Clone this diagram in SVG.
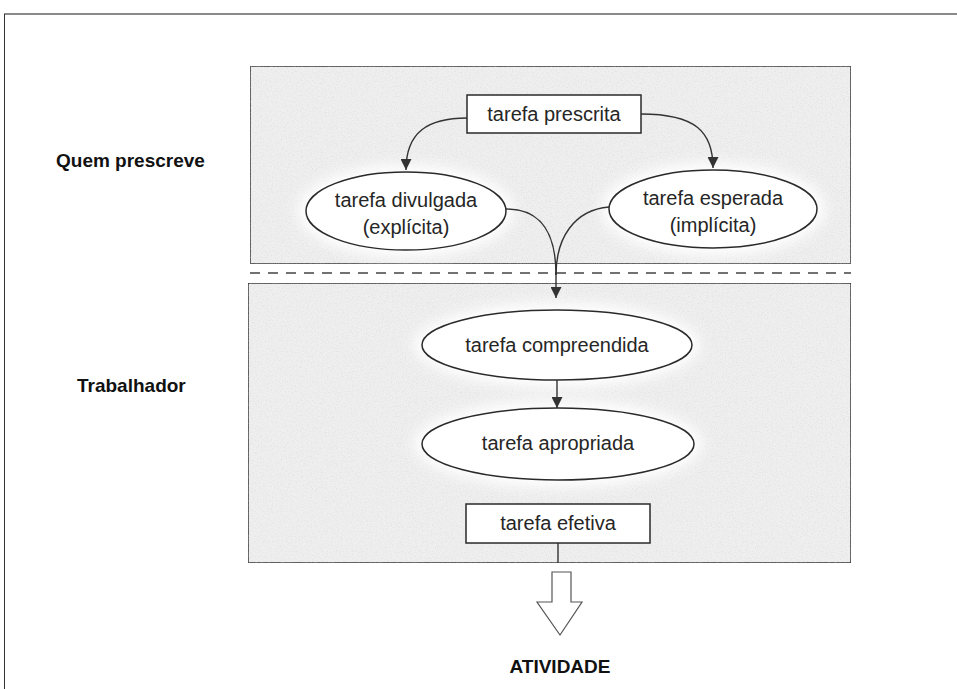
<svg xmlns="http://www.w3.org/2000/svg" width="957" height="689" viewBox="0 0 957 689">
  <defs>
    <style>
      .panel { fill: #efefef; stroke: #3c3c3c; stroke-width: 1.6; }
      .node { fill: #ffffff; stroke: #2a2a2a; stroke-width: 1.5; }
      .glow { fill: #ffffff; filter: url(#soft); }
      .ntext { font-family: "Liberation Sans", Arial, sans-serif; font-size: 20px; fill: #262626; text-anchor: middle; }
      .label { font-family: "Liberation Sans", Arial, sans-serif; font-size: 19px; font-weight: bold; fill: #111111; }
      .conn { fill: none; stroke: #333333; stroke-width: 1.4; }
    </style>
    <marker id="ah" viewBox="0 0 10 10" refX="10" refY="5" markerWidth="11" markerHeight="11" orient="auto" markerUnits="userSpaceOnUse">
      <path d="M0,0 L10,5 L0,10 z" fill="#333333"/>
    </marker>
    <filter id="soft" x="-20%" y="-40%" width="140%" height="180%">
      <feGaussianBlur stdDeviation="7"/>
    </filter>
    <filter id="grain" x="0" y="0" width="100%" height="100%">
      <feTurbulence type="fractalNoise" baseFrequency="0.8" numOctaves="2" seed="3" result="n"/>
      <feColorMatrix in="n" type="matrix" values="0 0 0 0 0.5  0 0 0 0 0.5  0 0 0 0 0.5  0 0 0 -0.7 0.38" result="dots"/>
      <feComposite in="dots" in2="SourceGraphic" operator="in" result="clip"/>
      <feMerge><feMergeNode in="SourceGraphic"/><feMergeNode in="clip"/></feMerge>
    </filter>
  </defs>

  <rect x="0" y="0" width="957" height="689" fill="#ffffff"/>

  <!-- page frame -->
  <line x1="4" y1="14" x2="957" y2="14" stroke="#8a8a8a" stroke-width="2"/>
  <line x1="4.5" y1="14" x2="4.5" y2="689" stroke="#333333" stroke-width="1"/>

  <!-- prescriber and worker panels -->
  <g id="panel-top">
    <rect class="panel" x="250" y="66" width="601" height="198" filter="url(#grain)"/>
  </g>
  <g id="panel-bottom">
    <rect class="panel" x="248" y="283" width="603" height="280" filter="url(#grain)"/>
  </g>
  <line x1="250" y1="273" x2="851" y2="273" stroke="#444444" stroke-width="1.4" stroke-dasharray="10 8"/>

  <!-- side labels -->
  <text class="label" x="56" y="167">Quem prescreve</text>
  <text class="label" x="77" y="392">Trabalhador</text>
  <text class="label" x="560" y="673" text-anchor="middle">ATIVIDADE</text>

  <!-- halos behind the nodes -->
  <g id="halos">
    <ellipse class="glow" cx="406" cy="211" rx="108" ry="46"/>
    <ellipse class="glow" cx="713" cy="209" rx="112" ry="46"/>
    <ellipse class="glow" cx="557" cy="345" rx="143" ry="42"/>
    <ellipse class="glow" cx="558" cy="444" rx="144" ry="43"/>
  </g>

  <!-- connectors -->
  <g id="connectors">
    <path class="conn" d="M467,118 C428,118 406,132 406,170" marker-end="url(#ah)"/>
    <path class="conn" d="M641,114 C696,114 713,132 713,168" marker-end="url(#ah)"/>
    <path class="conn" d="M506,209 C543,209 556,235 556,275"/>
    <path class="conn" d="M609,207 C574,210 556,238 556,275"/>
    <path class="conn" d="M556,272 L556,298" marker-end="url(#ah)"/>
    <path class="conn" d="M557,380 L557,408" marker-end="url(#ah)"/>
    <path class="conn" d="M558,543 L558,563"/>
    <polygon points="552,572 571,572 571,602 582,602 560,635 537,602 552,602" fill="#ffffff" stroke="#555555" stroke-width="1.2"/>
  </g>

  <!-- nodes -->
  <g id="tarefa-prescrita">
    <rect class="node" x="467" y="95" width="174" height="38"/>
    <text class="ntext" x="554" y="121">tarefa prescrita</text>
  </g>
  <g id="tarefa-divulgada">
    <ellipse class="node" cx="406" cy="211" rx="100" ry="39"/>
    <text class="ntext" x="406" y="207">tarefa divulgada</text>
    <text class="ntext" x="406" y="234">(explícita)</text>
  </g>
  <g id="tarefa-esperada">
    <ellipse class="node" cx="713" cy="209" rx="104" ry="39"/>
    <text class="ntext" x="713" y="205">tarefa esperada</text>
    <text class="ntext" x="713" y="232">(implícita)</text>
  </g>
  <g id="tarefa-compreendida">
    <ellipse class="node" cx="557" cy="345" rx="135" ry="35"/>
    <text class="ntext" x="557" y="352">tarefa compreendida</text>
  </g>
  <g id="tarefa-apropriada">
    <ellipse class="node" cx="558" cy="444" rx="136" ry="36"/>
    <text class="ntext" x="558" y="450">tarefa apropriada</text>
  </g>
  <g id="tarefa-efetiva">
    <rect class="node" x="466" y="504" width="184" height="39"/>
    <text class="ntext" x="558" y="530">tarefa efetiva</text>
  </g>
</svg>
